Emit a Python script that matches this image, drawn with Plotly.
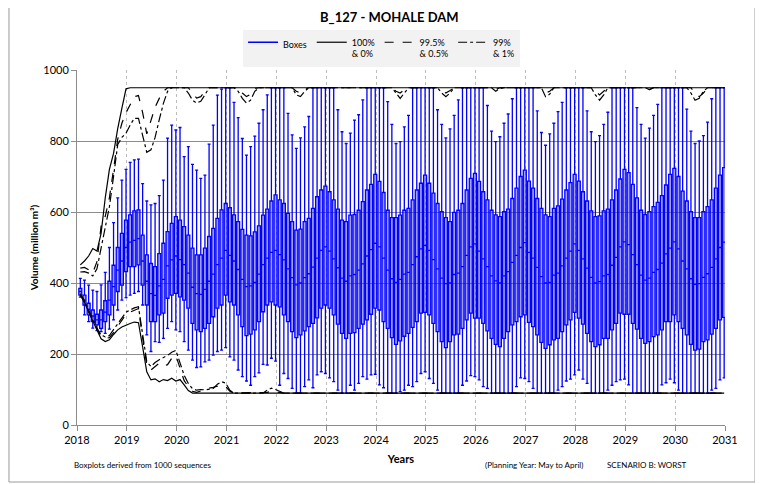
import plotly.graph_objects as go

# years shown on the axis, 12 monthly boxes per year
years = list(range(2018, 2031))
year_ticks = list(range(2018, 2032))

# box tops (75th percentile), million m3, one row per year Jan..Dec
q3 = [
	385, 366, 343, 324, 312, 324, 350, 405, 450, 500, 540, 577,
	592, 603, 606, 535, 479, 455, 446, 483, 512, 545, 568, 587,
	577, 559, 535, 498, 479, 479, 498, 531, 554, 582, 606, 624,
	612, 592, 573, 551, 535, 533, 544, 561, 591, 608, 631, 648,
	634, 624, 596, 573, 549, 552, 573, 582, 610, 643, 662, 673,
	657, 634, 608, 577, 573, 591, 593, 605, 629, 662, 678, 706,
	686, 655, 605, 584, 584, 591, 605, 610, 634, 662, 681, 704,
	681, 653, 624, 601, 584, 573, 599, 605, 624, 662, 695, 709,
	686, 657, 634, 605, 592, 587, 601, 608, 638, 667, 700, 718,
	687, 667, 638, 610, 592, 587, 610, 617, 636, 662, 683, 706,
	687, 657, 631, 603, 587, 589, 603, 608, 634, 662, 693, 720,
	711, 678, 640, 605, 593, 601, 615, 627, 646, 676, 706, 723,
	700, 659, 631, 601, 584, 584, 601, 615, 634, 667, 704, 725,
]

# medians
med = [
	376, 352, 326, 307, 296, 296, 318, 352, 390, 436, 462, 500,
	515, 520, 525, 462, 405, 370, 365, 392, 410, 448, 465, 476,
	466, 452, 428, 388, 370, 368, 382, 405, 425, 452, 470, 492,
	478, 462, 438, 410, 390, 392, 402, 425, 452, 470, 486, 492,
	480, 465, 440, 415, 395, 400, 415, 426, 445, 470, 492, 502,
	490, 468, 443, 414, 405, 420, 424, 436, 454, 476, 494, 512,
	502, 470, 436, 412, 402, 410, 425, 430, 452, 474, 496, 506,
	492, 466, 440, 414, 398, 400, 424, 428, 446, 478, 502, 510,
	490, 468, 446, 420, 406, 400, 420, 432, 458, 478, 500, 514,
	486, 470, 444, 418, 400, 402, 422, 428, 448, 470, 490, 510,
	492, 468, 442, 416, 400, 404, 420, 424, 450, 472, 502, 516,
	508, 480, 452, 422, 408, 414, 430, 438, 456, 482, 498, 516,
	496, 462, 440, 412, 396, 398, 416, 426, 444, 468, 500, 515,
]

# box bottoms (25th percentile)
q1 = [
	366, 338, 310, 291, 282, 272, 291, 310, 338, 376, 394, 432,
	446, 446, 451, 394, 338, 291, 291, 310, 315, 357, 366, 371,
	361, 352, 329, 286, 268, 263, 272, 286, 305, 329, 338, 366,
	347, 338, 310, 277, 252, 256, 268, 291, 319, 338, 347, 338,
	333, 310, 291, 263, 246, 254, 265, 277, 286, 302, 329, 338,
	329, 310, 284, 258, 244, 258, 260, 272, 284, 296, 312, 329,
	324, 291, 272, 246, 227, 237, 250, 258, 275, 291, 315, 317,
	310, 286, 263, 235, 218, 235, 254, 256, 272, 296, 315, 301,
	301, 286, 265, 244, 227, 221, 244, 263, 282, 291, 305, 310,
	289, 277, 254, 233, 216, 226, 240, 244, 263, 282, 296, 317,
	301, 284, 258, 235, 221, 226, 244, 244, 268, 286, 315, 312,
	312, 286, 270, 244, 230, 235, 249, 254, 268, 291, 291, 310,
	291, 272, 254, 227, 211, 214, 235, 240, 256, 272, 296, 303,
]

# whisker ends
whisker_hi = [
	413, 408, 394, 380, 376, 395, 430, 500, 570, 640, 690, 720,
	740, 747, 749, 680, 631, 620, 624, 646, 690, 808, 845, 831,
	838, 756, 784, 734, 718, 695, 704, 791, 845, 929, 946, 950,
	950, 909, 866, 807, 760, 784, 814, 850, 888, 930, 950, 950,
	950, 950, 878, 817, 779, 809, 840, 869, 950, 950, 950, 950,
	950, 950, 888, 826, 793, 822, 859, 874, 916, 950, 950, 950,
	950, 950, 911, 847, 793, 798, 840, 872, 950, 950, 950, 950,
	950, 950, 888, 847, 809, 834, 872, 916, 950, 950, 950, 950,
	950, 950, 900, 828, 798, 812, 850, 876, 919, 950, 950, 950,
	950, 950, 885, 824, 788, 820, 850, 883, 909, 950, 950, 950,
	950, 950, 885, 826, 798, 815, 847, 881, 950, 950, 950, 950,
	950, 950, 894, 847, 808, 836, 872, 903, 950, 950, 950, 950,
	950, 950, 890, 828, 793, 800, 815, 853, 919, 950, 950, 950,
]

whisker_lo = [
	360, 310, 291, 273, 266, 263, 258, 270, 296, 324, 352, 359,
	366, 371, 376, 338, 254, 207, 235, 233, 244, 272, 291, 268,
	263, 235, 211, 183, 162, 164, 178, 183, 197, 207, 211, 218,
	192, 183, 155, 136, 124, 112, 136, 147, 171, 169, 188, 180,
	112, 145, 131, 103, 90, 90, 108, 127, 105, 141, 150, 145,
	133, 122, 98, 90, 90, 112, 98, 117, 136, 129, 141, 143,
	113, 105, 90, 90, 90, 94, 98, 112, 108, 122, 145, 150,
	131, 117, 98, 90, 90, 90, 90, 90, 112, 124, 139, 136,
	127, 108, 103, 90, 90, 90, 90, 90, 90, 108, 133, 131,
	122, 103, 90, 90, 90, 90, 90, 98, 108, 124, 129, 141,
	155, 129, 117, 90, 90, 90, 90, 98, 112, 122, 127, 129,
	113, 90, 90, 90, 90, 90, 90, 90, 113, 119, 129, 119,
	98, 90, 90, 90, 90, 90, 90, 90, 98, 103, 127, 133,
]

# exceedance envelopes (100% / 0%, 99.5% / 0.5%, 99% / 1%)
env_100 = [451, 462, 476, 497, 490, 540, 640, 720, 765, 835, 892, 947] + [950] * 144
env_0 = [
	365, 345, 318, 292, 265, 243, 235, 240, 255, 268, 276, 282,
	286, 290, 288, 220, 150, 127, 130, 122, 128, 125, 132, 124,
	128, 113, 97,
] + [90] * 129

env_995 = [
	442, 444, 437, 428, 460, 560, 588, 640, 720, 805, 850, 880,
	902, 925, 928, 880, 820, 855, 895, 920, 940, 950, 950, 950,
	950, 950, 950, 935, 921, 925, 940, 950, 950, 950, 950, 950,
	950, 950, 950, 935, 925, 932, 948, 950, 950, 950, 950, 950,
	950, 950, 950, 950, 940, 935, 945, 950, 950, 950, 950, 950,
	950, 950, 950, 950, 950, 950, 950, 950, 950, 950, 950, 950,
	950, 950, 950, 950, 940, 935, 945, 950, 950, 950, 950, 950,
	950, 950, 950, 945, 935, 942, 950, 950, 950, 950, 950, 950,
	950, 950, 950, 950, 945, 950, 950, 950, 950, 950, 950, 950,
	950, 950, 950, 950, 935, 940, 950, 950, 950, 950, 950, 950,
	950, 950, 950, 950, 940, 930, 940, 950, 950, 950, 950, 950,
	950, 950, 950, 950, 950, 945, 950, 950, 950, 950, 950, 950,
	950, 950, 950, 950, 935, 925, 935, 950, 950, 950, 950, 950,
]
env_05 = [
	368, 348, 320, 295, 270, 250, 244, 246, 260, 278, 296, 312,
	318, 324, 328, 245, 170, 155, 165, 174, 166, 170, 188, 196,
	160, 125, 108, 95, 92, 96, 102, 104, 106, 110, 113, 108,
	95, 90, 90, 90, 90, 90, 90, 90, 90, 92, 95, 93,
] + [90] * 108

env_99 = [
	431, 432, 428, 420, 440, 500, 560, 615, 700, 790, 810, 822,
	845, 864, 864, 820, 768, 775, 810, 860, 906, 940, 950, 950,
	950, 950, 935, 915, 907, 912, 930, 950, 950, 950, 950, 950,
	950, 950, 940, 920, 907, 915, 940, 950, 950, 950, 950, 950,
	950, 950, 950, 950, 930, 925, 940, 950, 950, 950, 950, 950,
	950, 950, 950, 950, 950, 950, 950, 950, 950, 950, 950, 950,
	950, 950, 950, 950, 935, 920, 935, 950, 950, 950, 950, 950,
	950, 950, 950, 935, 925, 935, 950, 950, 950, 950, 950, 950,
	950, 950, 950, 950, 940, 948, 950, 950, 950, 950, 950, 950,
	950, 950, 950, 950, 925, 932, 950, 950, 950, 950, 950, 950,
	950, 950, 950, 950, 930, 915, 930, 950, 950, 950, 950, 950,
	950, 950, 950, 950, 950, 945, 950, 950, 950, 950, 950, 950,
	950, 950, 950, 935, 915, 920, 940, 950, 950, 950, 950, 950,
]
env_1 = [
	370, 350, 323, 298, 273, 254, 248, 252, 268, 285, 302, 318,
	324, 330, 333, 252, 178, 165, 176, 184, 190, 196, 205, 210,
	175, 140, 117, 102, 98, 100, 99, 101, 103, 115, 122, 118,
	98, 90, 90, 90, 90, 90, 90, 90, 90, 98, 104, 100,
	94,
] + [90] * 107

# month positions along the year axis
month_x = [y + (m + 0.8) / 12 for y in years for m in range(12)]

FONT = 'Lato'

fig = go.Figure()

fig.add_trace(go.Box(
	x=month_x,
	q1=q1,
	median=med,
	q3=q3,
	lowerfence=whisker_lo,
	upperfence=whisker_hi,
	width=0.06,
	whiskerwidth=1,
	boxpoints=False,
	line=dict(color='#0000ff', width=1.3),
	fillcolor='rgba(40,40,255,0.45)',
	showlegend=False,
	hoverinfo='skip',
))

# legend sample for the boxes
fig.add_trace(go.Scatter(
	x=[None], y=[None], mode='lines', name='Boxes',
	line=dict(color='#0000ff', width=1.5),
))

envelopes = [
	('100%<br>& 0%', env_100, env_0, 'solid'),
	('99.5%<br>& 0.5%', env_995, env_05, 'dash'),
	('99%<br>& 1%', env_99, env_1, 'dashdot'),
]
for name, hi, lo, dash in envelopes:
	fig.add_trace(go.Scatter(
		x=month_x, y=hi, mode='lines', name=name, legendgroup=name,
		line=dict(color='black', width=1.2, dash=dash),
	))
	fig.add_trace(go.Scatter(
		x=month_x, y=lo, mode='lines', name=name, legendgroup=name,
		showlegend=False,
		line=dict(color='black', width=1.2, dash=dash),
	))

# the page body adds an 8px offset, so the figure is sized to the remaining area
fig.update_layout(
	width=755,
	height=476,
	paper_bgcolor='white',
	plot_bgcolor='white',
	font=dict(family=FONT, size=11, color='black'),
	margin=dict(l=69, r=38, t=62, b=59, autoexpand=False),
	title=dict(
		text='<b>B_127 - MOHALE DAM</b>',
		x=0.505, xanchor='center', y=0.981, yanchor='middle',
		font=dict(size=13),
	),
	legend=dict(
		orientation='h',
		x=0.47, xanchor='center',
		y=1.113, yanchor='top',
		bgcolor='#f2f2f2',
		font=dict(size=9),
		itemwidth=30,
		valign='top',
	),
	showlegend=True,
)

fig.update_xaxes(
	range=[2018, 2031],
	tickvals=year_ticks,
	showgrid=True,
	gridcolor='#bdbdbd',
	griddash='dot',
	gridwidth=1,
	showline=True,
	linecolor='#8c8c8c',
	ticks='outside',
	ticklen=5,
	tickcolor='#8c8c8c',
	zeroline=False,
	title=dict(text='<b>Years</b>', font=dict(size=11), standoff=10),
)
fig.update_yaxes(
	range=[0, 1000],
	tickvals=[0, 200, 400, 600, 800, 1000],
	showgrid=True,
	gridcolor='#8c8c8c',
	gridwidth=1,
	showline=True,
	linecolor='#8c8c8c',
	ticks='outside',
	ticklen=5,
	tickcolor='#8c8c8c',
	zeroline=False,
	title=dict(text='<b>Volume (million m³)</b>', font=dict(size=10), standoff=2),
)

# chart frame
fig.add_shape(
	type='rect', xref='paper', yref='paper',
	x0=-0.105, x1=1.0463, y0=-0.1606, y1=1.25,
	line=dict(color='#9a9a9a', width=1),
)

notes = [
	('Boxplots derived from 1000 sequences', -0.008, 'left'),
	('(Planning Year: May to April)', 0.627, 'left'),
	('SCENARIO B: WORST', 0.815, 'left'),
]
for text, xpos, anchor in notes:
	fig.add_annotation(
		text=text, xref='paper', yref='paper',
		x=xpos, y=-0.113, xanchor=anchor, yanchor='middle',
		showarrow=False, font=dict(size=8),
	)

fig.write_html('out.html')
